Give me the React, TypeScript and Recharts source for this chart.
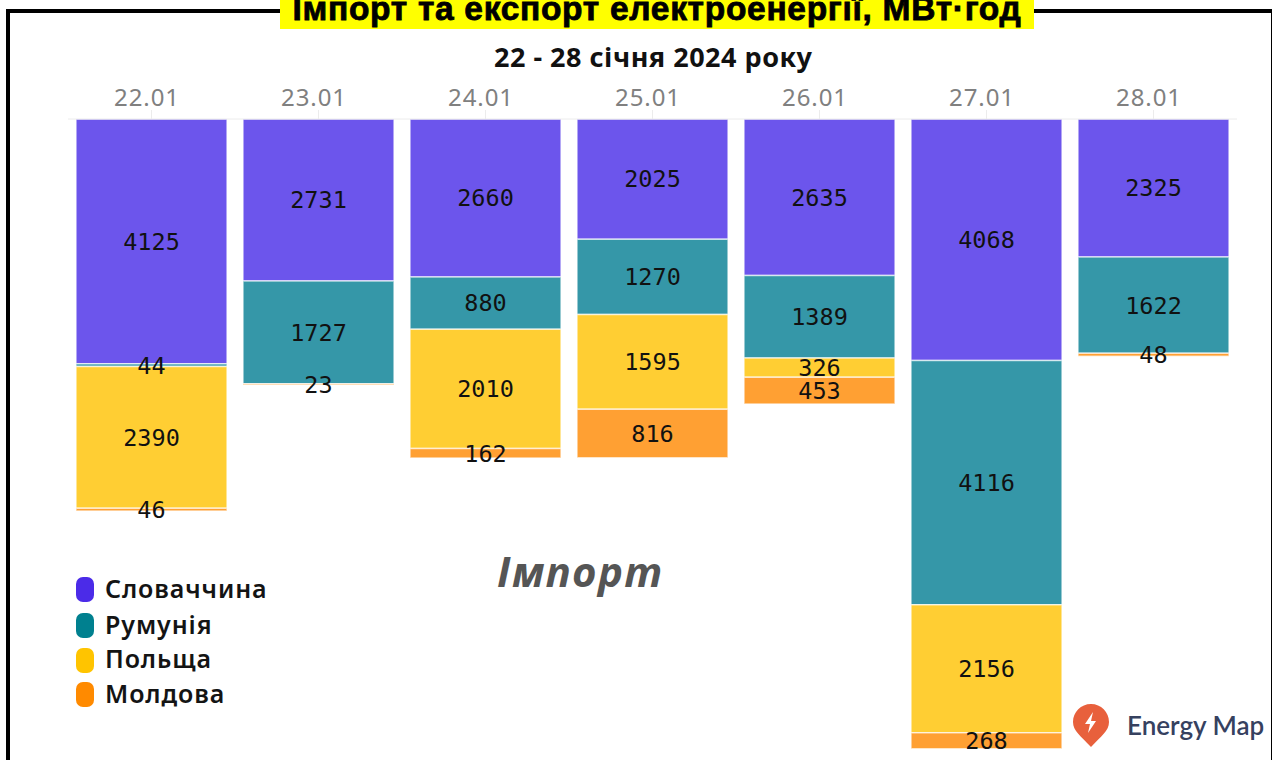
import React from "react";
import { BarChart, Bar, XAxis, YAxis, LabelList, Legend } from "recharts";

const days = ["22.01", "23.01", "24.01", "25.01", "26.01", "27.01", "28.01"];
const slovakia = [4125, 2731, 2660, 2025, 2635, 4068, 2325];
const romania = [44, 1727, 880, 1270, 1389, 4116, 1622];
const poland = [2390, null, 2010, 1595, 326, 2156, null];
const moldova = [46, 23, 162, 816, 453, 268, 48];

const seriesNames = ["Словаччина", "Румунія", "Польща", "Молдова"];
const legendColors = ["#4B2BE8", "#00808F", "#FFC400", "#FF8A00"];
const barColors = ["#6C55EC", "#3597A8", "#FFCE33", "#FFA033"];
const seriesKeys = ["slovakia", "romania", "poland", "moldova"];

const rows = days.map((day, i) => ({
  day,
  slovakia: slovakia[i],
  romania: romania[i],
  poland: poland[i],
  moldova: moldova[i],
}));

const abs = (s: React.CSSProperties): React.CSSProperties => ({
  position: "absolute",
  whiteSpace: "nowrap",
  ...s,
});

function ChartLegend() {
  return (
    <div style={{ width: 220 }}>
      {seriesNames.map((name, i) => (
        <div key={name} style={{ display: "flex", alignItems: "center", height: 25, marginBottom: i === 0 ? 11 : 9.5 }}>
          <span style={{ width: 18, height: 25, borderRadius: 7, background: legendColors[i], marginRight: 11, flex: "none" }} />
          <span style={{ font: "600 25px 'Noto Sans'", color: "#141414", letterSpacing: 0.9, lineHeight: "25px", position: "relative", top: -1.5 }}>{name}</span>
        </div>
      ))}
    </div>
  );
}

export default function App() {
  return (
    <div style={{ position: "absolute", left: 0, top: 0, width: 1272, height: 760, overflow: "hidden", background: "#fff" }}>
      <div style={abs({ left: 6, top: 9, width: 1300, height: 800, border: "4px solid #000", boxSizing: "border-box" })} />
      <div style={abs({ right: 0, top: 9, width: 1, height: 760, background: "#000" })} />
      <BarChart
        width={1272}
        height={760}
        data={rows}
        margin={{ top: 89, right: 35, bottom: 0, left: 68 }}
        barCategoryGap={8}
        style={{ position: "absolute", left: 0, top: 0 }}
      >
        <XAxis
          dataKey="day"
          orientation="top"
          height={30}
          stroke="#ececec"
          tickSize={9}
          tick={{ fill: "#808080", fontSize: 24, fontFamily: "'Noto Sans'", dx: -4.5, letterSpacing: 0.9 }}
          tickMargin={4}
          interval={0}
        />
        <YAxis hide type="number" reversed domain={[0, 10798]} allowDataOverflow />
        <Legend
          layout="vertical"
          verticalAlign="middle"
          align="center"
          content={<ChartLegend />}
          wrapperStyle={{ position: "absolute", left: 76, top: 577, width: 220 }}
        />
        {seriesKeys.map((key, i) => (
          <Bar
            key={key}
            dataKey={key}
            name={seriesNames[i]}
            stackId="import"
            fill={barColors[i]}
            stroke="#fff"
            strokeOpacity={0.65}
            strokeWidth={1.5}
            isAnimationActive={false}
          >
            <LabelList
              dataKey={key}
              position="center"
              fill="#111"
              fontSize={23.5}
              fontFamily="'DejaVu Sans Mono'"
            />
          </Bar>
        ))}
      </BarChart>

      <div style={abs({ left: 280, top: 0, width: 754, height: 29, background: "#ffff00", overflow: "hidden", textAlign: "center", font: "bold 33.5px 'Liberation Sans'", lineHeight: "18px", color: "#000", WebkitTextStroke: "0.8px #000", letterSpacing: 0.7 })}>
        Імпорт та експорт електроенергії, МВт·год
      </div>
      <div style={abs({ left: 494, top: 38, font: "700 27px 'Noto Sans'", color: "#111", letterSpacing: 0.5 })}>22 - 28 січня 2024 року</div>
      <div style={abs({ left: 497, top: 542, font: "italic 700 42px 'Open Sans'", color: "#555", letterSpacing: 1.3 })}>Імпорт</div>

      <svg style={abs({ left: 1072, top: 703 })} width={38} height={45} viewBox="0 0 38 45">
        <path d="M19 1C9 1 1 9 1 19c0 9 8 14 18 25C29 33 37 28 37 19 37 9 29 1 19 1z" fill="#E8603C" />
        <path d="M21 9l-8 12h5l-2 9 8-12h-5l2-9z" fill="#fff" />
      </svg>
      <div style={abs({ left: 1127, top: 709, font: "600 26px Lato", color: "#36415F" })}>Energy Map</div>
    </div>
  );
}
